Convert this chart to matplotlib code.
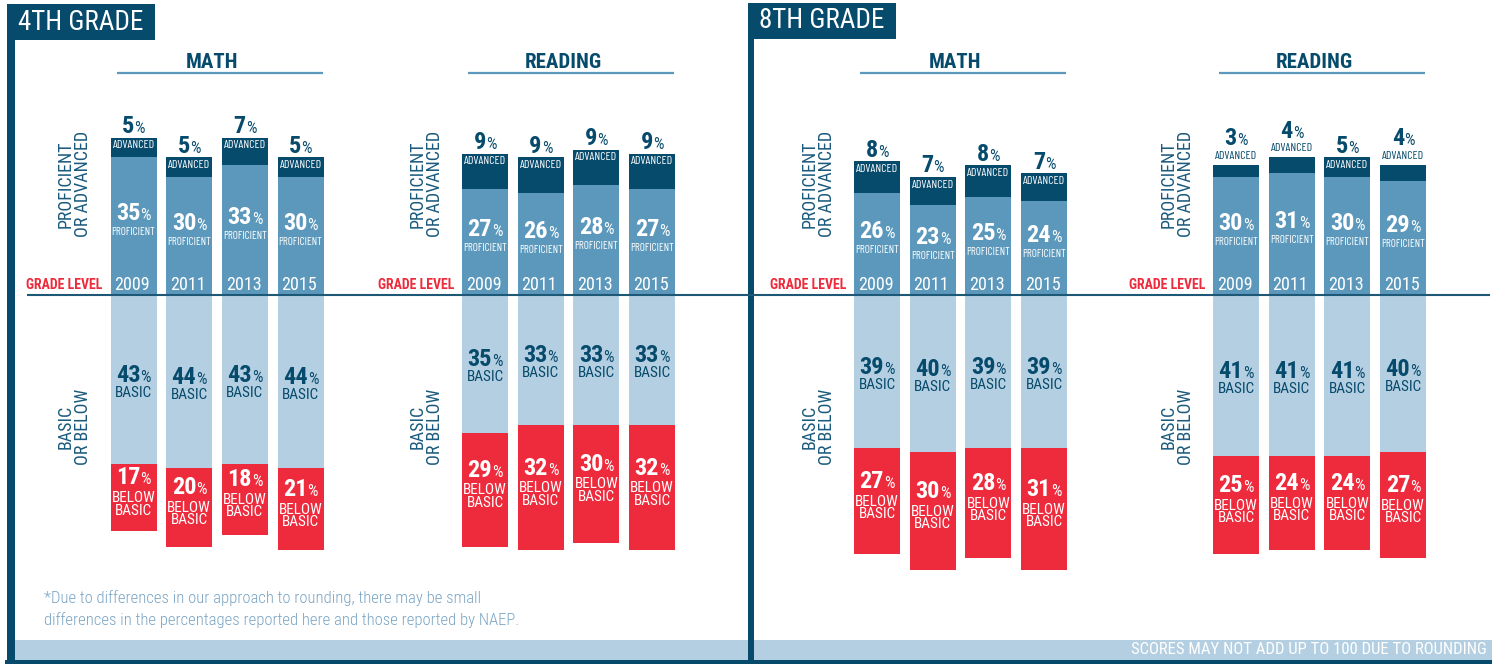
import os
import numpy as np
import matplotlib
matplotlib.use("Agg")
import matplotlib.pyplot as plt
import matplotlib.font_manager as fm
from matplotlib.patches import Rectangle
from matplotlib.offsetbox import TextArea, HPacker, AnnotationBbox

# look for condensed faces, the original uses a condensed grotesque
font_files = set(fm.findSystemFonts()) | {f.fname for f in fm.fontManager.ttflist}


def pick(cands):
    for c in cands:
        for f in font_files:
            if os.path.basename(f).lower() == c.lower():
                return f
    return None


REG_FILE = pick(['RobotoCondensed-Regular.ttf', 'LiberationSansNarrow-Regular.ttf',
                 'NotoSans-Condensed.ttf', 'DejaVuSansCondensed.ttf'])
BOLD_FILE = pick(['RobotoCondensed-Bold.ttf', 'LiberationSansNarrow-Bold.ttf',
                  'NotoSans-CondensedBold.ttf', 'DejaVuSansCondensed-Bold.ttf'])
LIGHT_FILE = pick(['RobotoCondensed-Light.ttf', 'BarlowCondensed-Light.ttf']) or REG_FILE
NARROW_FILE = pick(['BarlowCondensed-Regular.ttf']) or REG_FILE


def fp(size, bold=False, narrow=False, light=False):
    f = NARROW_FILE if narrow else LIGHT_FILE if light else (BOLD_FILE if bold else REG_FILE)
    if f:
        return fm.FontProperties(fname=f, size=size)
    return fm.FontProperties(family='DejaVu Sans', weight='bold' if bold else 'normal', size=size)


# colours
NAVY = '#064a6c'
PROF = '#5b98bc'
BASIC = '#b4cfe1'
RED = '#ee2b3c'
NOTE = '#7aa5c4'

years = ['2009', '2011', '2013', '2015']

# 4th grade
g4_math_adv = [5, 5, 7, 5]
g4_math_prof = [35, 30, 33, 30]
g4_math_basic = [43, 44, 43, 44]
g4_math_below = [17, 20, 18, 21]

g4_read_adv = [9, 9, 9, 9]
g4_read_prof = [27, 26, 28, 27]
g4_read_basic = [35, 33, 33, 33]
g4_read_below = [29, 32, 30, 32]

# 8th grade
g8_math_adv = [8, 7, 8, 7]
g8_math_prof = [26, 23, 25, 24]
g8_math_basic = [39, 40, 39, 39]
g8_math_below = [27, 30, 28, 31]

g8_read_adv = [3, 4, 5, 4]
g8_read_prof = [30, 31, 30, 29]
g8_read_basic = [41, 41, 41, 40]
g8_read_below = [25, 24, 24, 27]

W, H = 1498, 664
fig = plt.figure(figsize=(W / 100, H / 100), dpi=100)

# pixel layout of the bar panels
ZERO_PX = 295
PX_PER_PCT = 3.93
SPACING = 55.7
TOP_PX, BOT_PX = 80, 620
BAR_W = 46 / SPACING


def pct_label(ax, x, y, num, color, dy, big=17.5, small=12):
    a = TextArea(str(num), textprops=dict(color=color, fontproperties=fp(big, True)))
    b = TextArea('%', textprops=dict(color=color, fontproperties=fp(small)))
    box = HPacker(children=[a, b], align='baseline', pad=0, sep=0)
    ab = AnnotationBbox(box, (x, y), xybox=(0, dy), xycoords='data', boxcoords='offset points',
                        frameon=False, box_alignment=(0.5, 0.5), annotation_clip=False, zorder=6)
    ax.add_artist(ab)


def word(ax, x, y, s, color, dy, size=10, ls=0.85, narrow=False):
    ax.annotate(s, (x, y), xytext=(0, dy), textcoords='offset points', ha='center', va='center',
                color=color, fontproperties=fp(size, narrow=narrow), linespacing=ls, zorder=6,
                annotation_clip=False)


def panel(cx0, adv, prof, basic, below):
    left = (cx0 - SPACING / 2) / W
    ax = fig.add_axes([left, (H - BOT_PX) / H, 4 * SPACING / W, (BOT_PX - TOP_PX) / H])
    ax.set_xlim(-0.5, 3.5)
    ax.set_ylim(-(BOT_PX - ZERO_PX) / PX_PER_PCT, (ZERO_PX - TOP_PX) / PX_PER_PCT)
    ax.axis('off')
    ax.patch.set_alpha(0)
    x = np.arange(len(years))
    prof = np.array(prof)
    adv = np.array(adv)
    basic = np.array(basic)
    below = np.array(below)
    ax.bar(x, prof, BAR_W, color=PROF)
    ax.bar(x, adv, BAR_W, bottom=prof, color=NAVY)
    ax.bar(x, -basic, BAR_W, color=BASIC)
    ax.bar(x, -below, BAR_W, bottom=-basic, color=RED)
    for i in range(len(years)):
        top = prof[i] + adv[i]
        if adv[i] >= 5:
            pct_label(ax, i, top, adv[i], NAVY, 8)
            word(ax, i, top, 'ADVANCED', 'white', -5.5, size=8.5, narrow=True)
        else:
            pct_label(ax, i, top, adv[i], NAVY, 19)
            word(ax, i, top, 'ADVANCED', NAVY, 6.5, size=8.5, narrow=True)
        mid = prof[i] / 2
        pct_label(ax, i, mid, prof[i], 'white', 9)
        word(ax, i, mid, 'PROFICIENT', 'white', -4.5, size=8, narrow=True)
        mid = -basic[i] / 2
        pct_label(ax, i, mid, basic[i], NAVY, 3)
        word(ax, i, mid, 'BASIC', NAVY, -9.5, size=11)
        mid = -basic[i] - below[i] / 2
        pct_label(ax, i, mid, below[i], 'white', 14)
        word(ax, i, mid, 'BELOW\nBASIC', 'white', -5, size=11)
        ax.text(i - BAR_W / 2 + 0.07, 2.6, years[i], color='white', fontproperties=fp(13),
                ha='left', va='center', zorder=6)
    ax.text(-BAR_W / 2 - 8 / SPACING, 2.6, 'GRADE LEVEL', color=RED, fontproperties=fp(10, True),
            ha='right', va='center', clip_on=False)
    ax.text(-59 / SPACING, (ZERO_PX - 184) / PX_PER_PCT, 'PROFICIENT\nOR ADVANCED', rotation=90,
            color='#1a5a7d', fontproperties=fp(13), ha='center', va='center', linespacing=0.95,
            multialignment='center', clip_on=False)
    ax.text(-59 / SPACING, (ZERO_PX - 427) / PX_PER_PCT, 'BASIC\nOR BELOW', rotation=90,
            color='#1a5a7d', fontproperties=fp(13), ha='center', va='center', linespacing=0.95,
            multialignment='center', clip_on=False)
    return ax


panel(133.5, g4_math_adv, g4_math_prof, g4_math_basic, g4_math_below)
panel(485, g4_read_adv, g4_read_prof, g4_read_basic, g4_read_below)
panel(877, g8_math_adv, g8_math_prof, g8_math_basic, g8_math_below)
panel(1236, g8_read_adv, g8_read_prof, g8_read_basic, g8_read_below)

# frame / decoration layer in pixel coordinates
bg = fig.add_axes([0, 0, 1, 1], zorder=5)
bg.set_xlim(0, W)
bg.set_ylim(H, 0)
bg.axis('off')
bg.patch.set_alpha(0)

bg.plot([27, 1490], [ZERO_PX, ZERO_PX], color='#1d5877', lw=1.5, solid_capstyle='butt')

for r in [(7, 4, 8, 658), (7, 4, 148, 36), (748, 3, 6, 661), (748, 3, 148, 36), (5, 660, 1487, 4)]:
    bg.add_patch(Rectangle(r[:2], r[2], r[3], color=NAVY, lw=0))
bg.add_patch(Rectangle((15, 640), 733, 20, color=BASIC, lw=0))
bg.add_patch(Rectangle((754, 640), 738, 20, color=BASIC, lw=0))

bg.text(18, 22, '4TH GRADE', color='white', fontproperties=fp(19.5), va='center', ha='left')
bg.text(759, 21, '8TH GRADE', color='white', fontproperties=fp(19.5), va='center', ha='left')

for cx, x0, x1, title in [(212, 117, 323, 'MATH'), (563, 468, 674, 'READING'),
                          (955, 860, 1066, 'MATH'), (1314, 1219, 1425, 'READING')]:
    bg.text(cx, 62, title, color=NAVY, fontproperties=fp(15, True), ha='center', va='center')
    bg.plot([x0, x1], [73, 73], color=PROF, lw=1.6, solid_capstyle='butt')

bg.text(44, 598, '*Due to differences in our approach to rounding, there may be small',
        color=NOTE, fontproperties=fp(12, light=True), va='center', ha='left')
bg.text(44, 620, 'differences in the percentages reported here and those reported by NAEP.',
        color=NOTE, fontproperties=fp(12, light=True), va='center', ha='left')
bg.text(1487, 650, 'SCORES MAY NOT ADD UP TO 100 DUE TO ROUNDING', color='white',
        fontproperties=fp(12), va='center', ha='right')

fig.savefig('out.png', dpi=100)
